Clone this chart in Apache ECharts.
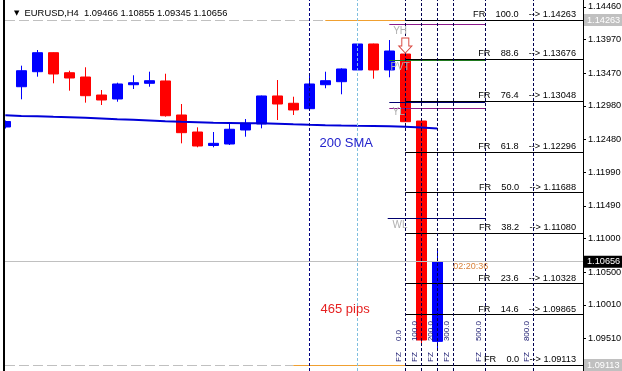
<!DOCTYPE html>
<html><head><meta charset="utf-8">
<script src="https://cdn.jsdelivr.net/npm/echarts@6/dist/echarts.min.js"></script>
<style>html,body{margin:0;padding:0;background:#fff}#c{width:622px;height:371px}</style>
</head><body><div id="c"></div>
<script>
// ---------- data ----------
const symbolName = 'EURUSD,H4';
// bars 0..27 (H4), open / close / low / high
const opens  = [1.12666,1.13267,1.13491,1.13775,1.13476,1.13412,1.13143,1.13084,1.13297,1.13318,1.13353,1.12845,1.12591,1.12390,1.12412,1.12621,1.12711,1.13129,1.13020,1.12939,1.13297,1.13342,1.13517,1.13905,1.13517,1.13755,1.12755,1.09466];
const closes = [1.12748,1.13506,1.13775,1.13457,1.13397,1.13133,1.13069,1.13308,1.13327,1.13357,1.12834,1.12581,1.12382,1.12422,1.12632,1.12721,1.13129,1.13009,1.12920,1.13308,1.13357,1.13532,1.13905,1.13517,1.13800,1.12745,1.09486,1.10656];
const lows   = [1.12643,1.13079,1.13417,1.13318,1.13208,1.13029,1.12994,1.13043,1.13233,1.13267,1.12820,1.12422,1.12363,1.12363,1.12397,1.12521,1.12646,1.12770,1.12845,1.12935,1.13244,1.13154,1.13510,1.13387,1.13408,1.12740,1.09440,1.09345];
const highs  = [1.12763,1.13581,1.13815,1.13780,1.13506,1.13557,1.13218,1.13327,1.13438,1.13491,1.13461,1.13009,1.12661,1.12591,1.12721,1.12785,1.13135,1.13367,1.13118,1.13457,1.13491,1.13542,1.13910,1.13910,1.13964,1.13766,1.12760,1.10855];
const sma200 = [1.12840,1.12830,1.12826,1.12818,1.12811,1.12803,1.12794,1.12782,1.12773,1.12764,1.12752,1.12743,1.12737,1.12731,1.12727,1.12722,1.12720,1.12715,1.12706,1.12699,1.12693,1.12688,1.12684,1.12681,1.12678,1.12669,1.12657,1.12645];
const yTicks = [1.09510,1.10010,1.10500,1.11000,1.11490,1.11990,1.12480,1.12980,1.13470,1.13970,1.14460];
const fibLevels = [100.0, 88.6, 76.4, 61.8, 50.0, 38.2, 23.6, 14.6, 0.0];
const fibPrices = [1.14263,1.13676,1.13048,1.12296,1.11688,1.11080,1.10328,1.09865,1.09113];
const fzLevels = [0, 100, 200, 300, 500, 800];
const fzBars = [25, 26, 27, 28, 30, 33];
const fibStartBar = 25;
const bidPrice = 1.10656;
const swingHigh = 1.14263, swingLow = 1.09113;
const yhPrice = 1.14199, pvPrice = 1.13661, whPrice = 1.13029, ylPrice = 1.12945, wlPrice = 1.11303;
const markerBars = [19, 22];
const smaLabel = '200 SMA', pipsLabel = '465 pips', timerLabel = '02:20:36';

// ---------- chart ----------
const xMin = -0.02, xMax = 36.106;
const yMin = 1.090236, yMax = 1.145615;
const FONT = '"Liberation Sans", Arial, sans-serif';
const last = opens.length - 1;

const hLine = (x1, x2, y, style, label) => [
  { coord: [x1, y], lineStyle: style, label: label || { show: false } },
  { coord: [x2, y] }
];
const solid = (c, w) => ({ color: c, width: w || 1, type: 'solid', opacity: 1 });
const dashed = (c, d) => ({ color: c, width: 1, type: d || [3, 2], opacity: 1 });

const boxLabel = (bg, price) => ({
  show: true, position: 'end', distance: 1, formatter: price.toFixed(5),
  color: '#fff', backgroundColor: bg, padding: [2, 3, 1, 3], fontSize: 9.2, fontFamily: FONT
});

const textPoint = (x, y, text, color, size) => ({
  coord: [x, y], symbol: 'circle', symbolSize: 1, itemStyle: { color: 'rgba(0,0,0,0)' },
  label: { show: true, position: 'right', distance: 0, formatter: text, color: color, fontSize: size, fontFamily: FONT }
});

const underLines = [
  hLine(xMin, 20, swingHigh, dashed('#c0c0c0', [10, 4])),
  hLine(20, fibStartBar, swingHigh, solid('#f0a030')),
  hLine(xMin, 18, swingLow, dashed('#c0c0c0', [10, 4])),
  hLine(18, fibStartBar, swingLow, solid('#f0a030')),
  hLine(24, 30, yhPrice, solid('#8b1a8b')),
  hLine(24, 30, pvPrice, solid('#1f7a1f')),
  hLine(24, 30, whPrice, solid('#00006e')),
  hLine(24, 30, ylPrice, solid('#8b1a8b')),
  hLine(23.9, 30, wlPrice, solid('#00006e')),
  hLine(xMin, xMax, bidPrice, solid('#c0c0c0'), boxLabel('#000', bidPrice))
];

const overLines = [];
fibLevels.forEach((lvl, i) => {
  overLines.push(hLine(fibStartBar, xMax, fibPrices[i], solid('#000'), {
    show: true, position: 'insideEndTop', distance: [7, 1],
    formatter: 'FR    ' + lvl.toFixed(1) + '    --> ' + fibPrices[i].toFixed(5),
    color: '#000', fontSize: 9.2, fontFamily: FONT
  }));
});
fzLevels.forEach((lvl, i) => {
  overLines.push({
    xAxis: fzBars[i], lineStyle: dashed('#000050'),
    label: { show: true, position: 'insideStartTop', distance: [9, 2.5],
      formatter: 'FZ     ' + lvl.toFixed(1), color: '#1a1a70', fontSize: 8, fontFamily: FONT }
  });
});
overLines.push({ xAxis: markerBars[0], lineStyle: dashed('#000080'), label: { show: false } });
overLines.push({ xAxis: markerBars[1], lineStyle: dashed('#7fbfe0'), label: { show: false } });
overLines.push(hLine(fibStartBar, xMax, swingHigh, solid('rgba(0,0,0,0)'), boxLabel('#c0c0c0', swingHigh)));
overLines.push(hLine(fibStartBar, xMax, swingLow, solid('rgba(0,0,0,0)'), boxLabel('#c0c0c0', swingLow)));

const option = {
  animation: false,
  backgroundColor: '#fff',
  title: {
    left: 9, top: 4,
    text: '{t|▼}  ' + symbolName + '  ' + [opens[last], highs[last], lows[last], closes[last]].map(v => v.toFixed(5)).join(' '),
    textStyle: { fontSize: 9.4, fontFamily: FONT, fontWeight: 'normal', color: '#000',
      rich: { t: { fontSize: 7, fontFamily: '"DejaVu Sans"', color: '#000' } } }
  },
  graphic: [
    { type: 'rect', shape: { x: 0, y: 0, width: 3, height: 371 }, style: { fill: '#fff' }, z: 100, silent: true }
  ],
  grid: { left: 5, right: 39, top: 0, bottom: 0, containLabel: false, outerBoundsMode: 'none' },
  xAxis: { type: 'value', min: xMin, max: xMax, show: false },
  yAxis: [
    {
      type: 'value', position: 'right', min: yMin, max: yMax,
      splitLine: { show: false },
      axisLine: { show: true, onZero: false, lineStyle: { color: '#000', width: 1 } },
      axisTick: { show: true, inside: false, length: 3, customValues: yTicks, lineStyle: { color: '#000' } },
      axisLabel: { show: true, customValues: yTicks, margin: 5, formatter: v => v.toFixed(5),
        color: '#000', fontSize: 9.2, fontFamily: FONT }
    },
    {
      type: 'value', position: 'left', offset: 1, min: yMin, max: yMax, z: 20,
      splitLine: { show: false },
      axisLine: { show: true, onZero: false, lineStyle: { color: '#000', width: 2 } },
      axisTick: { show: false }, axisLabel: { show: false }
    }
  ],
  series: [
    {
      type: 'line', data: [], z: 1, clip: false, silent: true,
      markLine: { symbol: ['none', 'none'], silent: true, animation: false, label: { show: false }, data: underLines }
    },
    {
      type: 'candlestick', z: 2,
      dimensions: ['bar', 'open', 'close', 'lowest', 'highest'],
      encode: { x: 0, y: [1, 2, 3, 4] },
      data: opens.map((o, i) => [i, o, closes[i], lows[i], highs[i]]),
      barWidth: 10,
      itemStyle: { color: '#0000ff', color0: '#ff0000', borderColor: '#0000ff', borderColor0: '#ff0000', borderWidth: 1 }
    },
    {
      type: 'line', z: 3, data: sma200.map((v, i) => [i, v]), showSymbol: false, symbol: 'none',
      lineStyle: { color: '#0000d8', width: 2 }, silent: true
    },
    {
      type: 'line', data: [], z: 5, clip: false, silent: true,
      markLine: { symbol: ['none', 'none'], silent: true, animation: false, label: { show: false }, data: overLines },
      markPoint: {
        silent: true, animation: false,
        data: [
          { coord: [fibStartBar, 1.13882], symbol: 'path://M3,0 L10,0 L10,8 L13,8 L6.5,15 L0,8 L3,8 Z',
            symbolSize: [13, 15], itemStyle: { color: '#fff', borderColor: '#d8453c', borderWidth: 1 }, label: { show: false } },
          textPoint(19.61, 1.12422, smaLabel, '#2323cc', 13),
          textPoint(19.67, 1.09942, pipsLabel, '#e52222', 13),
          textPoint(27.96, 1.10587, timerLabel, '#d9823b', 9),
          textPoint(24.21, 1.14091, 'YH', '#b0b0b0', 10),
          textPoint(24.04, 1.13554, 'PVT', '#b0b0b0', 10),
          textPoint(24.17, 1.12890, 'YL', '#b0b0b0', 10),
          textPoint(24.17, 1.11203, 'WL', '#b0b0b0', 10)
        ]
      }
    }
  ]
};
const chart = echarts.init(document.getElementById('c'), null, { renderer: 'canvas' });
chart.setOption(option);
</script>
</body></html>
